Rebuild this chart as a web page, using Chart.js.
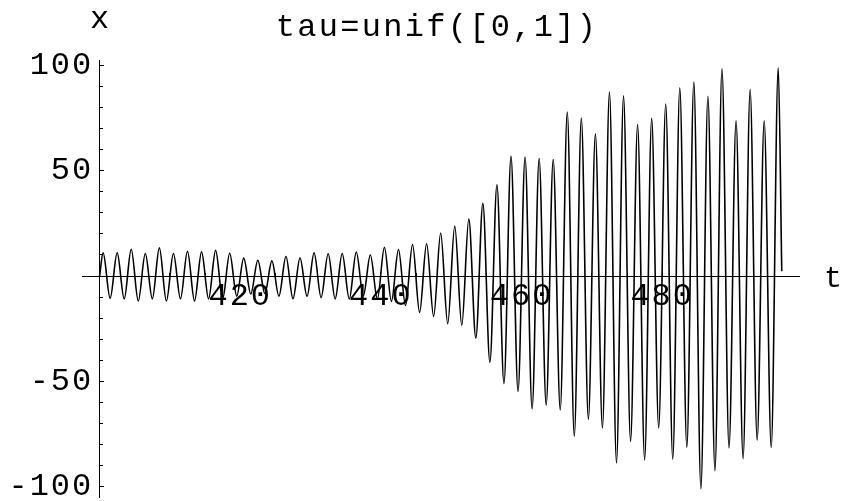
<!DOCTYPE html>
<html>
<head>
<meta charset="utf-8">
<script src="https://cdn.jsdelivr.net/npm/chart.js@4.4.1/dist/chart.umd.min.js"></script>
<style>
  html, body { margin: 0; padding: 0; background: #fff; }
  #wrap { width: 844px; height: 501px; }
</style>
</head>
<body>
<div id="wrap"><canvas id="c" width="844" height="501"></canvas></div>
<script>
// Turning points of x(t): successive maxima and minima, plus the end points
const sampleTimes = [
  400,
  400.5, 401.5, 402.5, 403.5, 404.5, 405.5, 406.5, 407.5, 408.5, 409.5,
  410.5, 411.5, 412.5, 413.5, 414.5, 415.5, 416.5, 417.5, 418.5, 419.5,
  420.5, 421.5, 422.5, 423.5, 424.5, 425.5, 426.5, 427.5, 428.5, 429.5,
  430.5, 431.5, 432.5, 433.5, 434.5, 435.5, 436.5, 437.5, 438.5, 439.5,
  440.5, 441.5, 442.5, 443.5, 444.5, 445.5, 446.5, 447.5, 448.5, 449.5,
  450.5, 451.5, 452.5, 453.5, 454.5, 455.5, 456.5, 457.5, 458.5, 459.5,
  460.5, 461.5, 462.5, 463.5, 464.5, 465.5, 466.5, 467.5, 468.5, 469.5,
  470.5, 471.5, 472.5, 473.5, 474.5, 475.5, 476.5, 477.5, 478.5, 479.5,
  480.5, 481.5, 482.5, 483.5, 484.5, 485.5, 486.5, 487.5, 488.5, 489.5,
  490.5, 491.5, 492.5, 493.5, 494.5, 495.5, 496.5,
  497
];
const sampleValues = [
  0,
  11, -10.5, 11, -10.8, 12.7, -11.8, 10.7, -10.8, 13.4, -11.8,
  10.7, -10.8, 11.8, -11.8, 11.5, -10.8, 12.2, -10.8, 10.8, -9.5,
  8.5, -8.5, 7.5, -8.3, 7.2, -9.5, 9.3, -10.7, 8.6, -9.6,
  11, -10.2, 10.6, -10.8, 10.7, -10.9, 11.4, -9.4, 10, -10.9,
  13.7, -12, 12.6, -14, 15, -17.2, 15.3, -19.1, 20.4, -22.6,
  23.7, -23.3, 27, -29.4, 34.5, -40.9, 43.3, -51, 56.8, -54.7,
  56.5, -63, 55.8, -61.2, 55.3, -63.5, 77.8, -76, 75, -68,
  67.5, -72, 87.3, -88.6, 85.5, -78.5, 71.9, -87.2, 74.8, -72,
  81.6, -86.9, 89.3, -81.3, 92, -100.9, 85.3, -92.4, 98.3, -81.5,
  73.7, -86.6, 88.5, -77.9, 73.7, -81.3, 98.8,
  2.3
];

// Axis ticks
const xMajorTicks = [420, 440, 460, 480];
const xMinorTicks = [405, 410, 415, 420, 425, 430, 435, 440, 445, 450, 455, 460, 465, 470, 475, 480, 485, 490, 495];
const yMajorTicks = [-100, -50, 50, 100];
const yMinorTicks = [-100, -90, -80, -70, -60, -50, -40, -30, -20, -10, 10, 20, 30, 40, 50, 60, 70, 80, 90, 100];

const titleText = 'tau=unif([0,1])';
const yAxisName = 'x';
const xAxisName = 't';

const X_MIN = 397.5, X_MAX = 499.45;
const Y_MIN = -104.8, Y_MAX = 102.5;
const X_ORIGIN = 400;
const Y_LABEL_ANCHOR = 399.1;

const mono = '"Liberation Mono", "Courier New", monospace';
const tickFont = { family: mono, size: 32, lineHeight: 1 };

const points = sampleTimes.map((t, i) => ({ x: t, y: sampleValues[i] }));

function fixedTicks(list) {
  return scale => { scale.ticks = list.map(v => ({ value: v })); };
}
function noPadding(scale) {
  scale.paddingTop = 0; scale.paddingBottom = 0;
  scale.paddingLeft = 0; scale.paddingRight = 0;
}

// Wider Courier-like spacing for all text, then title and axis names
const textPlugin = {
  id: 'axisText',
  beforeDraw(chart) {
    chart.ctx.letterSpacing = '2px';
  },
  afterDraw(chart) {
    const ctx = chart.ctx;
    const xs = chart.scales.x, ys = chart.scales.y;
    const axisX = xs.getPixelForValue(X_ORIGIN);
    ctx.save();
    ctx.fillStyle = '#000';
    ctx.textAlign = 'center';
    ctx.textBaseline = 'alphabetic';
    ctx.font = '32px ' + mono;
    ctx.letterSpacing = '2.3px';
    ctx.fillText(titleText, 437, 36);
    ctx.letterSpacing = '0px';
    ctx.fillText(yAxisName, axisX, 28);
    ctx.font = '30px ' + mono;
    ctx.fillText(xAxisName, xs.right + 34, ys.getPixelForValue(0) + 11);
    ctx.restore();
    ctx.letterSpacing = '0px';
  }
};

new Chart(document.getElementById('c'), {
  type: 'line',
  data: {
    datasets: [{
      data: points,
      borderColor: '#000',
      borderWidth: 1.6,
      pointRadius: 0,
      fill: false,
      cubicInterpolationMode: 'monotone'
    }]
  },
  options: {
    responsive: false,
    animation: false,
    devicePixelRatio: 1,
    layout: { padding: { left: 82, right: 45, top: 60, bottom: 4 } },
    plugins: { legend: { display: false }, tooltip: { enabled: false }, title: { display: false } },
    scales: {
      x: {
        type: 'linear', min: X_MIN, max: X_MAX,
        position: { y: 0 },
        afterBuildTicks: fixedTicks(xMajorTicks),
        afterFit: noPadding,
        border: { display: true, color: '#000', width: 1 },
        grid: { drawOnChartArea: false, tickLength: -5, tickColor: '#000', tickWidth: 1 },
        ticks: { color: '#000', font: tickFont, padding: 9, autoSkip: false, maxRotation: 0, callback: v => String(v) }
      },
      xMinor: {
        type: 'linear', min: X_MIN, max: X_MAX,
        position: { y: 0 },
        afterBuildTicks: fixedTicks(xMinorTicks),
        afterFit: noPadding,
        border: { display: false },
        grid: { drawOnChartArea: false, tickLength: -3, tickColor: '#000', tickWidth: 1 },
        ticks: { display: false }
      },
      y: {
        type: 'linear', min: Y_MIN, max: Y_MAX,
        position: { x: X_ORIGIN },
        afterBuildTicks: fixedTicks(yMajorTicks),
        afterFit: noPadding,
        border: { display: true, color: '#000', width: 1 },
        grid: { drawOnChartArea: false, tickLength: -5, tickColor: '#000', tickWidth: 1 },
        ticks: { display: false }
      },
      yMinor: {
        type: 'linear', min: Y_MIN, max: Y_MAX,
        position: { x: X_ORIGIN },
        afterBuildTicks: fixedTicks(yMinorTicks),
        afterFit: noPadding,
        border: { display: false },
        grid: { drawOnChartArea: false, tickLength: -3, tickColor: '#000', tickWidth: 1 },
        ticks: { display: false }
      },
      yLab: {
        type: 'linear', min: Y_MIN, max: Y_MAX,
        position: { x: Y_LABEL_ANCHOR },
        afterBuildTicks: fixedTicks(yMajorTicks),
        afterFit: noPadding,
        border: { display: false },
        grid: { display: false },
        ticks: { color: '#000', font: tickFont, autoSkip: false, callback: v => String(v) }
      }
    }
  },
  plugins: [textPlugin]
});
</script>
</body>
</html>
